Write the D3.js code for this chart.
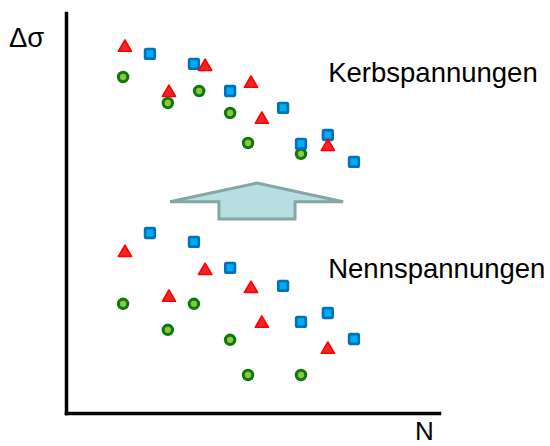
<!DOCTYPE html>
<html>
<head>
<meta charset="utf-8">
<script src="https://cdn.jsdelivr.net/npm/d3@7"></script>
<style>
  html, body { margin: 0; padding: 0; background: #fff; }
  svg { display: block; }
</style>
</head>
<body>
<script>
// ---- data (arbitrary units) ----
const triN      = [1.58, 2.76, 3.73, 4.96, 5.25, 7.02];
const kerbTri   = [9.18, 8.05, 8.70, 8.28, 7.38, 6.70];
const nennTri   = [4.05, 2.93, 3.60, 3.15, 2.28, 1.63];

const sqN       = [2.25, 3.43, 4.40, 5.82, 6.30, 7.02, 7.72];
const kerbSq    = [8.98, 8.73, 8.05, 7.63, 6.73, 6.95, 6.28];
const nennSq    = [4.50, 4.28, 3.63, 3.18, 2.28, 2.50, 1.85];

const cirKerbN  = [1.53, 2.73, 3.57, 4.40, 4.88, 6.30];
const kerbCir   = [8.40, 7.75, 8.05, 7.50, 6.75, 6.48];
const cirNennN  = [1.53, 2.73, 3.43, 4.40, 4.88, 6.30];
const nennCir   = [2.73, 2.08, 2.73, 1.83, 0.95, 0.95];

const labels = ["Kerbspannungen", "Nennspannungen"];
const labelPos = [[7.03, 8.27], [7.03, 3.38]];
const axisLabels = { y: "Δσ", x: "N" };

// arrow outline (data units)
const arrowPts = [[2.79, 5.28], [5.12, 5.75], [7.43, 5.28], [6.14, 5.28], [6.14, 4.85], [4.10, 4.85], [4.10, 5.28]];

// ---- drawing ----
const W = 550, H = 446;
const svg = d3.select("body").append("svg").attr("width", W).attr("height", H);

const x = d3.scaleLinear().domain([0, 10]).range([66, 439]);
const y = d3.scaleLinear().domain([0, 10]).range([413, 13]);

const font = "'Liberation Sans', Arial, sans-serif";

// axes
const xAxis = svg.append("g").attr("transform", `translate(0,${y(0)})`)
  .call(d3.axisBottom(x).tickValues([]).tickSizeOuter(0));
const yAxis = svg.append("g").attr("transform", `translate(${x(0)},0)`)
  .call(d3.axisLeft(y).tickValues([]).tickSizeOuter(0));
[xAxis, yAxis].forEach(a => a.select(".domain")
  .attr("stroke", "#000").attr("stroke-width", 3.5).attr("stroke-linecap", "square"));

// arrow
svg.append("polygon")
  .attr("points", arrowPts.map(p => [x(p[0]), y(p[1])].join(",")).join(" "))
  .attr("fill", "#B7DEE1")
  .attr("stroke", "#85A6A6")
  .attr("stroke-width", 3)
  .attr("stroke-linejoin", "miter");

function pairs(xs, ys) { return xs.map((v, i) => [v, ys[i]]); }

function drawCircles(data) {
  svg.append("g").selectAll("circle").data(data).join("circle")
    .attr("cx", d => x(d[0])).attr("cy", d => y(d[1])).attr("r", 4.7)
    .attr("fill", "#8DC63F").attr("stroke", "#0E7A0E").attr("stroke-width", 3.1);
}
function drawSquares(data) {
  svg.append("g").selectAll("rect").data(data).join("rect")
    .attr("x", d => x(d[0]) - 4.8).attr("y", d => y(d[1]) - 4.8)
    .attr("width", 9.6).attr("height", 9.6).attr("rx", 1.2)
    .attr("fill", "#00AEEF").attr("stroke", "#0070C0").attr("stroke-width", 2.7);
}
const tri = "M0,-5.8L6.6,5.5L-6.6,5.5Z";
function drawTriangles(data) {
  svg.append("g").selectAll("path").data(data).join("path")
    .attr("d", tri)
    .attr("transform", d => `translate(${x(d[0])},${y(d[1])})`)
    .attr("fill", "#F02525").attr("stroke", "#FF0000").attr("stroke-width", 1.6)
    .attr("stroke-linejoin", "round");
}

drawCircles(pairs(cirKerbN, kerbCir));
drawCircles(pairs(cirNennN, nennCir));
drawSquares(pairs(sqN, kerbSq));
drawSquares(pairs(sqN, nennSq));
drawTriangles(pairs(triN, kerbTri));
drawTriangles(pairs(triN, nennTri));

// labels
labels.forEach((t, i) => {
  svg.append("text")
    .attr("x", x(labelPos[i][0])).attr("y", y(labelPos[i][1]))
    .attr("font-family", font).attr("font-size", 27.5).attr("fill", "#000")
    .text(t);
});
svg.append("text").attr("x", 9).attr("y", 47)
  .attr("font-family", font).attr("font-size", 27.5).text(axisLabels.y);
svg.append("text").attr("x", 415).attr("y", 440)
  .attr("font-family", font).attr("font-size", 26).text(axisLabels.x);
</script>
</body>
</html>
